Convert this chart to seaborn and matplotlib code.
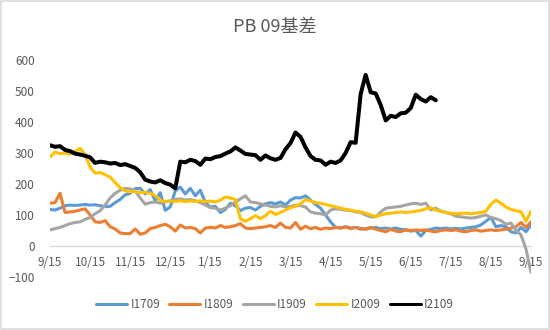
import numpy as np
import pandas as pd
import matplotlib
matplotlib.use("Agg")
import matplotlib.pyplot as plt
from matplotlib.lines import Line2D
from matplotlib.patches import Rectangle
import seaborn as sns

# Basis of each September contract, sampled every 1/8 month starting 9/15
tick_labels = ["9/15", "10/15", "11/15", "12/15", "1/15", "2/15", "3/15",
               "4/15", "5/15", "6/15", "7/15", "8/15", "9/15"]
contracts = ["I1709", "I1809", "I1909", "I2009", "I2109"]
colors = ["#5B9BD5", "#ED7D31", "#A5A5A5", "#FFC000", "#000000"]

i1709 = [118, 116, 122, 130, 132, 131, 132, 134, 132, 133, 130, 127, 128, 140, 150, 165,
         170, 185, 186, 168, 182, 145, 172, 115, 126, 178, 190, 168, 186, 162, 180, 140,
         126, 128, 108, 118, 138, 130, 114, 122, 124, 116, 128, 136, 140, 136, 142, 132,
         148, 156, 155, 162, 148, 134, 122, 100, 78, 60, 58, 62, 58, 60, 57, 54,
         58, 60, 56, 58, 55, 58, 54, 52, 48, 50, 32, 50, 54, 58, 56, 58,
         55, 57, 55, 58, 60, 62, 68, 80, 92, 62, 66, 62, 46, 42, 60, 46, 68]

i1809 = [138, 140, 170, 108, 110, 112, 116, 120, 100, 78, 76, 82, 62, 55, 42, 40,
         40, 55, 38, 42, 56, 60, 66, 70, 62, 48, 68, 58, 60, 56, 42, 58,
         60, 58, 66, 60, 62, 66, 72, 58, 56, 58, 60, 62, 66, 60, 74, 60,
         58, 76, 54, 64, 56, 60, 54, 58, 56, 60, 58, 62, 56, 60, 54, 56,
         60, 54, 50, 46, 54, 48, 46, 52, 50, 52, 50, 52, 48, 46, 50, 52,
         50, 52, 48, 46, 50, 52, 48, 50, 52, 50, 52, 54, 58, 62, 76, 60, 78]

i1909 = [52, 56, 60, 66, 72, 76, 78, 86, 92, 104, 114, 132, 155, 170, 180, 186,
         184, 178, 155, 135, 140, 142, 138, 142, 146, 150, 152, 148, 150, 146, 140, 132,
         124, 122, 116, 122, 130, 142, 152, 162, 142, 140, 136, 132, 128, 126, 130, 126,
         128, 132, 130, 126, 110, 106, 104, 100, 116, 120, 118, 116, 114, 110, 108, 100,
         94, 94, 110, 122, 124, 126, 128, 132, 136, 138, 134, 138, 116, 122, 112, 108,
         104, 96, 94, 92, 90, 92, 96, 100, 92, 88, 82, 70, 74, 50, 36, -10, -85]

i2009 = [287, 303, 298, 300, 296, 305, 315, 295, 255, 235, 237, 230, 222, 205, 188, 178,
         175, 176, 172, 173, 170, 162, 148, 143, 145, 144, 146, 143, 145, 144, 146, 143,
         145, 142, 148, 158, 155, 150, 88, 80, 88, 98, 88, 98, 112, 102, 108, 116,
         124, 128, 136, 150, 145, 140, 138, 134, 130, 126, 122, 118, 116, 112, 110, 106,
         100, 95, 100, 104, 106, 108, 110, 108, 110, 112, 115, 120, 123, 116, 112, 108,
         106, 104, 105, 106, 104, 106, 108, 112, 135, 148, 138, 126, 118, 114, 110, 80, 112]

i2109 = [325, 320, 322, 310, 306, 298, 295, 291, 286, 268, 272, 270, 266, 268, 261, 264,
         258, 252, 238, 214, 208, 205, 212, 203, 198, 186, 272, 270, 278, 274, 262, 282,
         280, 287, 290, 298, 305, 318, 308, 297, 295, 293, 278, 292, 283, 278, 284, 312,
         332, 366, 352, 318, 290, 278, 276, 262, 272, 268, 276, 300, 335, 333, 490, 552,
         496, 492, 455, 405, 420, 416, 428, 430, 445, 488, 474, 466, 480, 470]

series = [i1709, i1809, i1909, i2009, i2109]
step = 1 / 8  # sampling interval in months

frames = []
for name, vals in zip(contracts, series):
    frames.append(pd.DataFrame({
        "month": np.arange(len(vals)) * step,
        "basis": vals,
        "contract": name,
    }))
df = pd.concat(frames, ignore_index=True)

sns.set_theme(style="white")
plt.rcParams["font.family"] = ["Noto Sans CJK SC", "DejaVu Sans"]

fig = plt.figure(figsize=(5.5, 3.3), dpi=100)
ax = fig.add_axes([50 / 550, 1 - 277 / 330, 481 / 550, 217 / 330])

sns.lineplot(data=df, x="month", y="basis", hue="contract", hue_order=contracts,
             palette=colors, linewidth=2.2, legend=False, ax=ax, estimator=None,
             sort=False)
for line in ax.lines:
    if matplotlib.colors.to_hex(line.get_color()) == "#000000":
        line.set_linewidth(2.9)

ax.set_xlim(0, 12)
ax.set_ylim(-100, 600)
ax.set_yticks(range(-100, 601, 100))
ax.set_xticks(range(13))
ax.set_xticklabels(tick_labels)
ax.set_xlabel("")
ax.set_ylabel("")

for side in ["top", "right", "left"]:
    ax.spines[side].set_visible(False)
ax.spines["bottom"].set_position(("data", 0))
ax.spines["bottom"].set_color("#D9D9D9")
ax.spines["bottom"].set_linewidth(1)
ax.spines["bottom"].set_zorder(0)
ax.tick_params(axis="x", length=0, pad=7, labelsize=8.5, labelcolor="#595959")
ax.tick_params(axis="y", length=0, pad=11, labelsize=8.5, labelcolor="#595959")
ax.grid(False)

fig.suptitle("PB 09基差", x=0.5, y=1 - 27 / 330, va="center",
             fontsize=13, color="#595959")

handles = [Line2D([], [], color=c, lw=2.2) for c in colors]
fig.legend(handles, contracts, loc="center", bbox_to_anchor=(0.5, 1 - 305 / 330),
           ncol=5, frameon=False, fontsize=8.5, labelcolor="#595959",
           handlelength=2.6, handletextpad=0.3, columnspacing=0.8)

fig.patches.append(Rectangle((0.001, 0.002), 0.997, 0.995, transform=fig.transFigure,
                             fill=False, edgecolor="#D9D9D9", linewidth=1.2))

fig.savefig("out.png", dpi=100)
